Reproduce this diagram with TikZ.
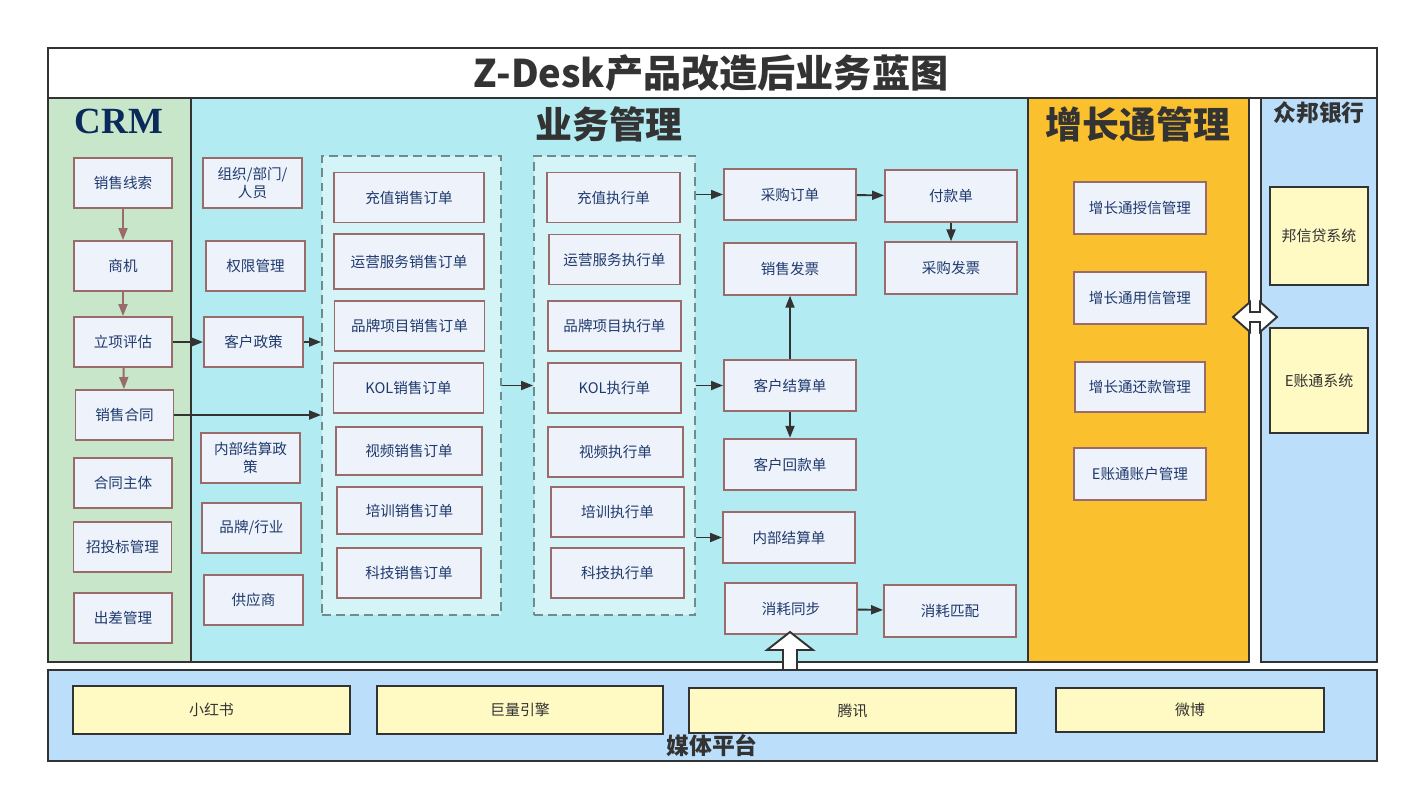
\documentclass[tikz,border=0pt]{standalone}
\usepackage{fontspec}
\usepackage{tikz}
\usetikzlibrary{arrows.meta}
\usetikzlibrary{positioning}
\setmainfont{Noto Sans CJK SC}
\newfontfamily\crmfont{Liberation Serif}
\definecolor{crmgreen}{HTML}{C8E6C9}
\definecolor{bizcyan}{HTML}{B2EBF2}
\definecolor{grpfill}{HTML}{D4F4F7}
\definecolor{grpline}{HTML}{6E8C8C}
\definecolor{groworange}{HTML}{FBC02D}
\definecolor{bankblue}{HTML}{BBDEFB}
\definecolor{boxfill}{HTML}{EEF2FA}
\definecolor{boxline}{HTML}{9A6B6B}
\definecolor{boxtext}{HTML}{1F3A6E}
\definecolor{yellowbox}{HTML}{FFF9C4}
\definecolor{darkline}{HTML}{333333}
\definecolor{crmtitle}{HTML}{0B2A5C}
\tikzset{box/.style = {draw=boxline, fill=boxfill, line width=1.1pt, text=boxtext, inner sep=0, align=center, minimum height=1cm, font=\fontsize{8.3}{10}\selectfont}}
\tikzset{crmbox/.style = {box, minimum width=1.96cm}}
\tikzset{polbox/.style = {box, minimum width=1.98cm}}
\tikzset{ordbox/.style = {box, minimum width=3cm}}
\tikzset{exebox/.style = {box, minimum width=2.66cm}}
\tikzset{flowbox/.style = {box, minimum width=2.64cm, minimum height=1.03cm}}
\tikzset{sysbox/.style = {draw=darkline, fill=yellowbox, line width=1.2pt, text=darkline, inner sep=0, align=center, font=\fontsize{8.5}{10}\selectfont}}
\tikzset{mediabox/.style = {sysbox, font=\fontsize{8.5}{10}\selectfont}}
\tikzset{panel/.style = {draw=darkline, line width=1.1pt}}
\tikzset{group/.style = {draw=grpline, fill=grpfill, line width=1.1pt, dash pattern=on 5pt off 3pt, inner sep=0, minimum width=3.58cm, minimum height=9.18cm}}
\tikzset{flow/.style = {draw=darkline, line width=1.1pt, -{Triangle[length=0.24cm, width=0.18cm]}}}
\tikzset{crmflow/.style = {flow, draw=boxline, -{Triangle[length=0.24cm, width=0.18cm, fill=boxline]}}}
\tikzset{hollow/.style = {draw=darkline, fill=white, line width=1.1pt, line join=miter}}

\begin{document}
\begin{tikzpicture}[x=0.02cm, y=-0.02cm]
      \useasboundingbox (0, 0) rectangle (1409, 792);

      \draw [panel, fill=white] (48, 48) rectangle (1377, 98);
      \draw [panel, fill=crmgreen] (48, 98) rectangle (191, 662);
      \draw [panel, fill=bizcyan] (191, 98) rectangle (1028, 662);
      \draw [panel, fill=groworange] (1028, 98) rectangle (1249, 662);
      \draw [panel, fill=bankblue] (1261, 98) rectangle (1377, 662);

      \node (title) at (711, 73) {\fontsize{21.7}{26}\selectfont\bfseries\color{darkline}Z-Desk产品改造后业务蓝图};
      \node (crm) at (119, 121) {\crmfont\fontsize{21}{24}\selectfont\bfseries\color{crmtitle}CRM};
      \node (biz) at (609, 124) {\fontsize{21}{24}\selectfont\bfseries\color{darkline}业务管理};
      \node (grow) at (1138, 124) {\fontsize{21}{24}\selectfont\bfseries\color{darkline}增长通管理};
      \node (bank) at (1319, 113) {\fontsize{13}{15}\selectfont\bfseries\color{darkline}众邦银行};

      \node [crmbox] (lead) at (123, 183) {销售线索};
      \node [crmbox] (oppo) at (123, 266) {商机};
      \node [crmbox] (eval) at (123, 342) {立项评估};
      \node [crmbox] (contract) at (124.5, 415) {销售合同};
      \node [crmbox] (entity) at (123, 483) {合同主体};
      \node [crmbox] (bid) at (122.5, 547) {招投标管理};
      \node [crmbox] (trip) at (123, 618) {出差管理};

      \node [polbox] (org) at (252.5, 183) {组织/部门/\\人员};
      \node [polbox] (perm) at (255.5, 266) {权限管理};
      \node [polbox] (policy) at (253.5, 342) {客户政策};
      \node [polbox] (settlepol) at (250.5, 458) {内部结算政\\策};
      \node [polbox] (brand) at (251.5, 528) {品牌/行业};
      \node [polbox] (supplier) at (253.5, 600) {供应商};

      \node [group] (grp1) at (411.5, 385.5) {};
      \node [group, minimum width=3.22cm] (grp2) at (614.5, 385.5) {};

      \node [ordbox] (so1) at (409, 197.5) {充值销售订单};
      \node [ordbox, minimum height=1.1cm] (so2) at (409, 261.5) {运营服务销售订单};
      \node [ordbox] (so3) at (409.5, 326) {品牌项目销售订单};
      \node [ordbox] (so4) at (408.5, 388) {KOL销售订单};
      \node [ordbox, minimum width=2.92cm, minimum height=0.96cm] (so5) at (409, 451) {视频销售订单};
      \node [ordbox, minimum width=2.9cm, minimum height=0.94cm] (so6) at (409.5, 510.5) {培训销售订单};
      \node [ordbox, minimum width=2.88cm] (so7) at (409, 573) {科技销售订单};

      \node [exebox] (ex1) at (613.5, 197.5) {充值执行单};
      \node [exebox, minimum width=2.62cm] (ex2) at (614.5, 259.5) {运营服务执行单};
      \node [exebox] (ex3) at (614.5, 326) {品牌项目执行单};
      \node [exebox] (ex4) at (614.5, 388) {KOL执行单};
      \node [exebox, minimum width=2.7cm] (ex5) at (615.5, 452) {视频执行单};
      \node [exebox] (ex6) at (617.5, 512) {培训执行单};
      \node [exebox] (ex7) at (617.5, 573) {科技执行单};

      \node [flowbox] (po) at (790, 194.5) {采购订单};
      \node [flowbox] (sinv) at (790, 269) {销售发票};
      \node [flowbox] (cset) at (790, 385.5) {客户结算单};
      \node [flowbox] (cpay) at (790, 464.5) {客户回款单};
      \node [flowbox] (iset) at (789, 537.5) {内部结算单};
      \node [flowbox] (sync) at (791, 608.5) {消耗同步};
      \node [flowbox] (pay) at (951, 196) {付款单};
      \node [flowbox] (pinv) at (951, 268) {采购发票};
      \node [flowbox] (match) at (950, 611) {消耗匹配};

      \node [flowbox] (gr1) at (1140, 208) {增长通授信管理};
      \node [flowbox] (gr2) at (1140, 298) {增长通用信管理};
      \node [flowbox, minimum width=2.6cm, minimum height=1cm] (gr3) at (1140, 387) {增长通还款管理};
      \node [flowbox] (gr4) at (1140, 474) {E账通账户管理};

      \node [sysbox, minimum width=1.96cm, minimum height=1.96cm] (bank1) at (1319, 236) {邦信贷系统};
      \node [sysbox, minimum width=1.96cm, minimum height=2.1cm] (bank2) at (1319, 380.5) {E账通系统};

      \draw [crmflow] (lead) -- (oppo);
      \draw [crmflow] (oppo) -- (eval);
      \draw [crmflow] (eval) -- (contract);
      \draw [flow] (eval) -- (policy);
      \draw [flow] (policy.east) -- (policy.east -| grp1.west);
      \draw [flow] (contract.east) -- (contract.east -| grp1.west);
      \draw [flow] (grp1) -- (grp2);
      \draw [flow] (po.west -| grp2.east) -- (po.west);
      \draw [flow] (cset.west -| grp2.east) -- (cset.west);
      \draw [flow] (iset.west -| grp2.east) -- (iset.west);
      \draw [flow] (po) -- (pay);
      \draw [flow] (pay) -- (pinv);
      \draw [flow] (cset) -- (sinv);
      \draw [flow] (cset) -- (cpay);
      \draw [flow] (sync) -- (match);

      \draw [hollow] (1233, 317) -- (1250, 302) -- (1250, 312) -- (1260, 312) -- (1260, 302)
        -- (1277, 317) -- (1260, 332) -- (1260, 322) -- (1250, 322) -- (1250, 332) -- cycle;
      \draw [hollow] (790, 632) -- (813, 650) -- (797, 650) -- (797, 670) -- (783, 670)
        -- (783, 650) -- (767, 650) -- cycle;

      \draw [panel, fill=bankblue] (48, 670) rectangle (1377, 761);
      \node [mediabox, minimum width=5.54cm, minimum height=0.96cm] (m1) at (211.5, 710) {小红书};
      \node [mediabox, minimum width=5.72cm, minimum height=0.96cm] (m2) at (520, 710) {巨量引擎};
      \node [mediabox, minimum width=6.54cm, minimum height=0.9cm] (m3) at (852.5, 710.5) {腾讯};
      \node [mediabox, minimum width=5.36cm, minimum height=0.88cm] (m4) at (1190, 710) {微博};
      \node (media) at (712, 746) {\fontsize{13}{15}\selectfont\bfseries\color{darkline}媒体平台};
\end{tikzpicture}
\end{document}
